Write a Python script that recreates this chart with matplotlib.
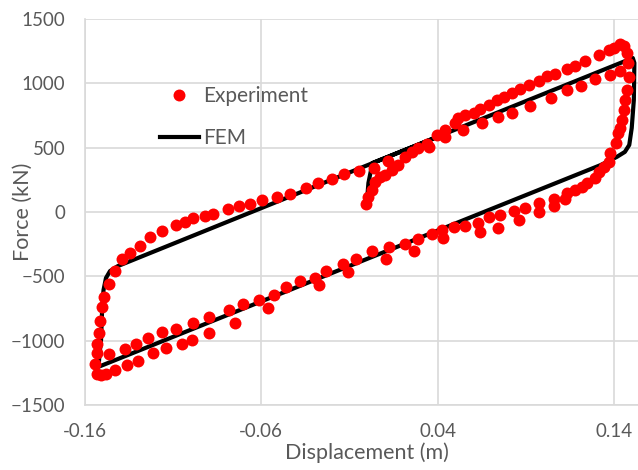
import matplotlib
matplotlib.use("Agg")
import matplotlib.pyplot as plt

# Experimental hysteresis loop (displacement in m, force in kN)
exp_disp = [
    -0.0003, 0.0008, 0.0027, 0.0046, 0.0074, 0.0103, 0.0140, 0.0178, 0.0216, 0.0254,
    0.0292, 0.0339, 0.0349, 0.0396, 0.0440, 0.0440,
    0.0501, 0.0519, 0.0557, 0.0605, 0.0643, 0.0690, 0.0737, 0.0775, 0.0822, 0.0870,
    0.0917, 0.0974, 0.1021, 0.1069, 0.1135, 0.1182, 0.1239, 0.1315, 0.1372, 0.1400,
    0.1438, 0.1457,
    0.1476, 0.1481, 0.1485, 0.1476, 0.1466, 0.1457, 0.1447, 0.1438, 0.1424, 0.1415,
    0.1376, 0.1372, 0.1343, 0.1315, 0.1296, 0.1248, 0.1220, 0.1182, 0.1135, 0.1126,
    0.1059, 0.1059, 0.0978, 0.0978, 0.0898, 0.0860, 0.0832, 0.0756, 0.0741, 0.0690,
    0.0639, 0.0629, 0.0557, 0.0491, 0.0424, 0.0434, 0.0368, 0.0292, 0.0265, 0.0213,
    0.0123, 0.0110, 0.0029, -0.0060, -0.0138, -0.0110, -0.0231, -0.0293, -0.0274, -0.0378,
    -0.0458, -0.0530, -0.0559, -0.0611, -0.0704, -0.0748, -0.0785, -0.0899, -0.0899, -0.0990,
    -0.0994, -0.1083, -0.1051, -0.1161, -0.1141, -0.1240, -0.1212, -0.1310, -0.1301, -0.1373,
    -0.1363, -0.1461, -0.1430, -0.1481, -0.1509, -0.1534, -0.1543,
    -0.1534, -0.1532, -0.1523, -0.1515, -0.1502, -0.1492, -0.1462, -0.1430,
    -0.1391, -0.1344, -0.1289, -0.1231, -0.1161, -0.1083, -0.1031, -0.0989, -0.0917, -0.0874,
    -0.0789, -0.0725, -0.0665, -0.0594, -0.0511, -0.0437, -0.0347, -0.0277, -0.0199, -0.0133,
    -0.0046, 0.0039, 0.0119,
    0.0542, 0.0653, 0.0743, 0.0820, 0.0927, 0.1044, 0.1135, 0.1214, 0.1296, 0.1376,
    0.1438,
]
exp_force = [
    62, 119, 171, 236, 274, 288, 327, 365, 430, 469,
    495, 529, 508, 599, 638, 586,
    690, 729, 754, 772, 799, 832, 871, 897, 928, 954,
    988, 1019, 1058, 1073, 1110, 1138, 1174, 1221, 1260, 1273,
    1304, 1291,
    1234, 1156, 1052, 949, 871, 793, 715, 651, 612, 534,
    456, 391, 352, 313, 262, 223, 197, 171, 145, 99,
    99, 47, 72, 2, 29, -62, 8, -23, -122, -41,
    -153, -83, -109, -114, -140, -205, -173, -212, -303, -251,
    -270, -368, -303, -368, -404, -469, -459, -516, -568, -534,
    -586, -648, -744, -684, -718, -865, -765, -819, -943, -865,
    -995, -910, -1029, -931, -1060, -982, -1099, -1026, -1155, -1068,
    -1186, -1104, -1225, -1256, -1264, -1260, -1182,
    -1094, -1026, -937, -845, -741, -661, -561, -456,
    -365, -321, -264, -194, -145, -101, -78, -48, -31, -12,
    21, 43, 62, 93, 119, 138, 187, 226, 257, 294,
    320, 344, 400,
    638, 694, 736, 770, 824, 884, 949, 980, 1032, 1065,
    1099,
]

# Finite element prediction
fem_disp = [0.000, 0.0008, 0.0031, 0.1508, 0.1517, 0.1514, 0.1502, 0.1488, 0.1463,
            0.1417, 0.1326, -0.1523, -0.1518, -0.1509, -0.1503, -0.1495, -0.1481,
            -0.1458, -0.1413, 0.0440]
fem_force = [90, 225, 381, 1197, 1159, 871, 653, 521, 467,
             428, 365, -1203, -1112, -995, -762, -607, -513,
             -459, -420, 606]

x_ticks = [-0.16, -0.06, 0.04, 0.14]
x_tick_labels = ["-0.16", "-0.06", "0.04", "0.14"]
y_ticks = [-1500, -1000, -500, 0, 500, 1000, 1500]

plt.rcParams["font.family"] = ["Lato", "DejaVu Sans"]
text_color = "#595959"
grid_color = "#d9d9d9"

fig = plt.figure(figsize=(6.38, 4.70), dpi=100)
ax = fig.add_axes([85 / 638, 65 / 470, 564 / 638, 386 / 470])

ax.plot(fem_disp, fem_force, color="black", lw=3.0, solid_joinstyle="round",
        label="FEM", zorder=2)
ax.plot(exp_disp, exp_force, linestyle="none", marker="o", markersize=8.6,
        color="#ff0000", markeredgewidth=0, label="Experiment", zorder=3)

ax.set_xlim(-0.16, 0.16)
ax.set_ylim(-1500, 1500)
ax.set_xticks(x_ticks)
ax.set_xticklabels(x_tick_labels)
ax.set_yticks(y_ticks)
ax.tick_params(length=0, labelsize=13.5, labelcolor=text_color)
ax.tick_params(axis="y", pad=14)
ax.tick_params(axis="x", pad=13)
ax.grid(True, color=grid_color, lw=1.2)
ax.set_axisbelow(True)
for side in ("top", "right"):
    ax.spines[side].set_visible(False)
for side in ("left", "bottom"):
    ax.spines[side].set_color(grid_color)
    ax.spines[side].set_linewidth(1.2)

ax.set_xlabel("Displacement (m)", fontsize=15.5, color=text_color, labelpad=2)
fig.text(23 / 638, 1 - 212 / 470, "Force (kN)", fontsize=15.5, color=text_color,
         rotation=90, ha="center", va="center")

handles, labels = ax.get_legend_handles_labels()
leg = fig.legend(handles[::-1], labels[::-1], loc="upper left",
                 bbox_to_anchor=(160 / 638, 1 - 86 / 470), frameon=False,
                 fontsize=15, handlelength=1.87, handletextpad=0.2,
                 labelspacing=1.05, borderpad=0, borderaxespad=0)
for t in leg.get_texts():
    t.set_color(text_color)

fig.savefig("out.png", dpi=100)
